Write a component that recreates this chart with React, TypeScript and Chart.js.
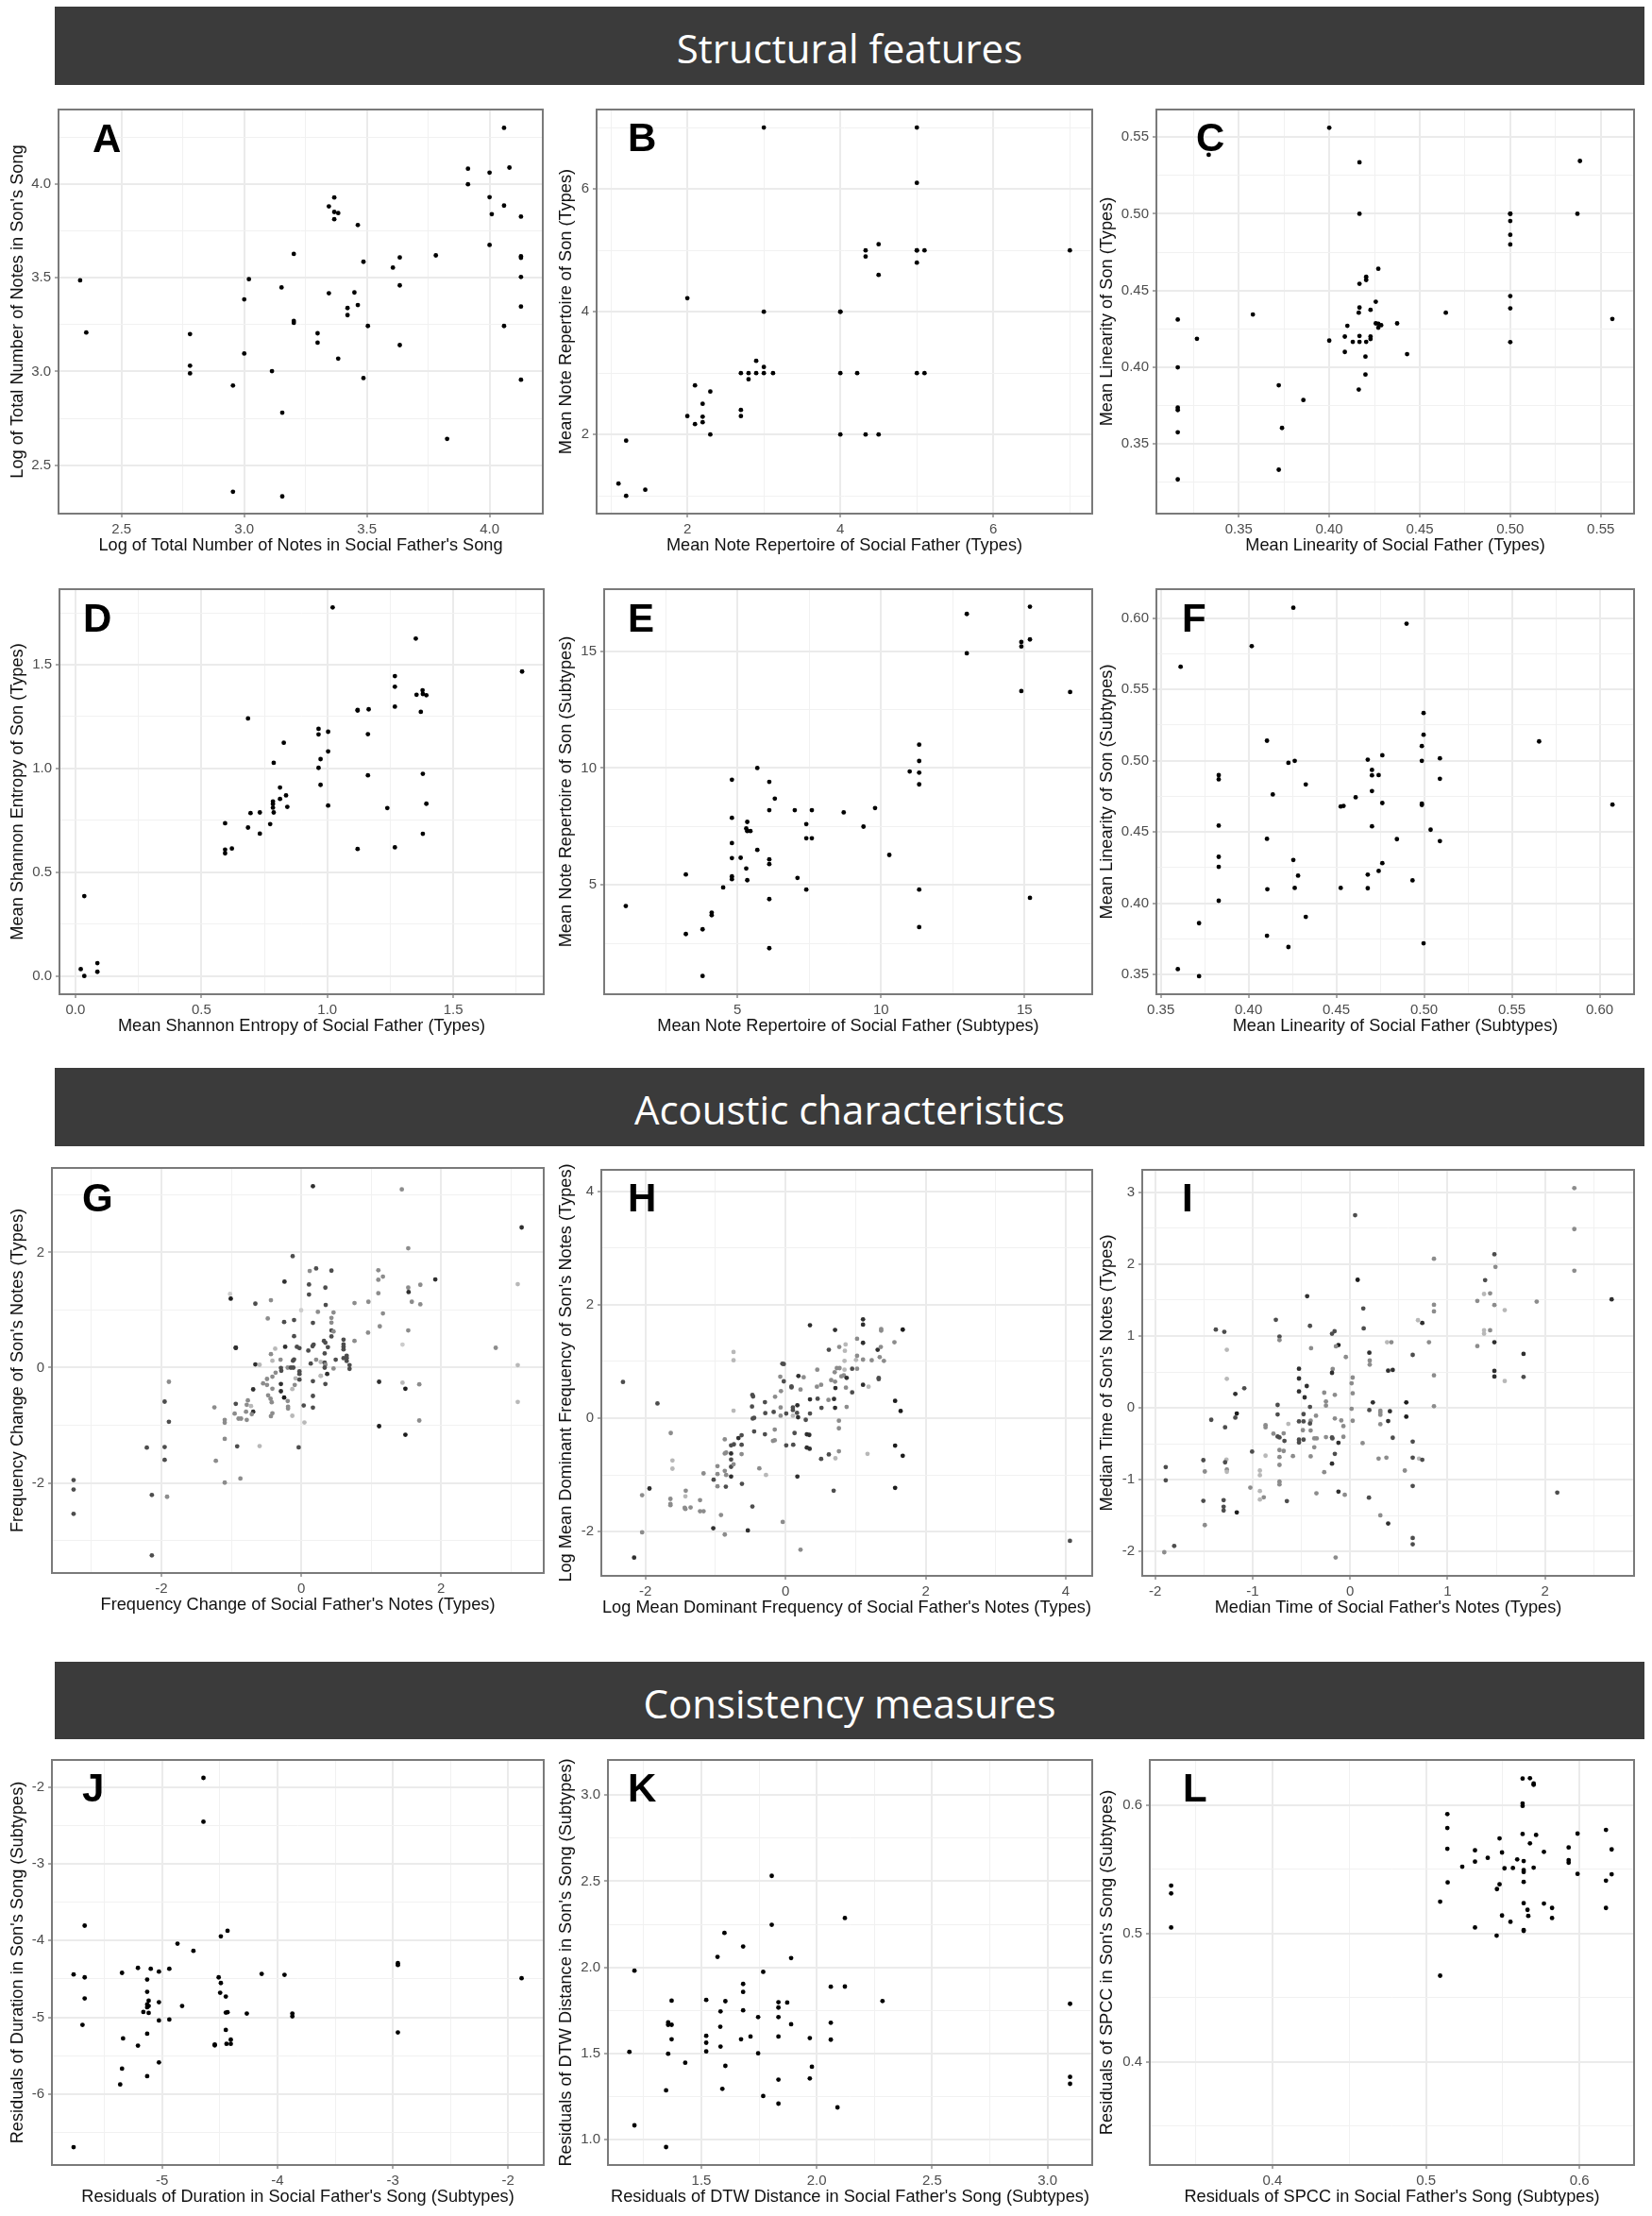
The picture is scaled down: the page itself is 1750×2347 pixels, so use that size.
import { useEffect, useRef } from 'react'
import Chart from 'chart.js/auto'

// father, son
const pointsA = [[2.331,3.487],[2.356,3.208],[2.779,3.2],[2.779,3.031],[2.779,2.99],[2.954,2.925],[2.954,2.358],[3,3.385],[3,3.096],[3.019,3.493],[3.113,3.002],[3.152,3.449],[3.155,2.78],[3.155,2.333],[3.202,3.628],[3.202,3.27],[3.202,3.26],[3.299,3.204],[3.299,3.154],[3.345,3.882],[3.345,3.418],[3.367,3.929],[3.367,3.852],[3.367,3.813],[3.383,3.846],[3.383,3.069],[3.421,3.339],[3.421,3.301],[3.449,3.422],[3.463,3.782],[3.463,3.355],[3.486,3.586],[3.486,2.965],[3.504,3.243],[3.606,3.555],[3.634,3.609],[3.634,3.46],[3.634,3.141],[3.781,3.62],[3.827,2.64],[3.912,4.083],[3.912,4],[4,4.062],[4,3.931],[4,3.676],[4.009,3.84],[4.059,4.301],[4.059,3.886],[4.059,3.243],[4.081,4.089],[4.128,3.827],[4.128,3.615],[4.128,3.607],[4.128,3.505],[4.128,3.347],[4.128,2.956]]
const pointsB = [[1.1,1.2],[1.2,1.9],[1.2,1],[1.45,1.1],[2,4.22],[2,2.3],[2.1,2.8],[2.1,2.17],[2.2,2.5],[2.2,2.29],[2.2,2.2],[2.3,2.7],[2.3,2],[2.7,3],[2.7,2.4],[2.7,2.3],[2.8,3],[2.8,2.9],[2.9,3.2],[2.9,3],[3,7],[3,4],[3,3.1],[3,3],[3.12,3],[4,4],[4,4],[4,3],[4,2],[4.22,3],[4.33,5],[4.33,4.9],[4.33,2],[4.5,5.1],[4.5,4.6],[4.5,2],[5,7],[5,6.1],[5,5],[5,5],[5,4.8],[5,3],[5.1,5],[5.1,3],[7,5]]
const pointsC = [[.3163,.4311],[.3163,.4],[.3163,.3738],[.3163,.3722],[.3163,.3577],[.3163,.327],[.3269,.4186],[.3334,.5384],[.3578,.4344],[.3721,.3883],[.3721,.3333],[.3739,.3605],[.3857,.3787],[.4,.556],[.4,.4174],[.4086,.42],[.4086,.41],[.41,.427],[.413,.4166],[.4163,.4356],[.4163,.3855],[.4167,.5335],[.4167,.5],[.4167,.4544],[.4167,.4389],[.4167,.4204],[.4167,.4166],[.42,.407],[.42,.3953],[.4204,.4589],[.4204,.4569],[.4204,.4166],[.4228,.4374],[.4228,.42],[.4228,.4184],[.4257,.4427],[.4257,.4286],[.4271,.4642],[.4271,.4284],[.4271,.4258],[.4287,.4274],[.4375,.4286],[.443,.4086],[.4644,.4356],[.5,.5],[.5,.5],[.5,.4953],[.5,.4863],[.5,.48],[.5,.4464],[.5,.4384],[.5,.4164],[.5371,.5],[.5385,.5344],[.5564,.4315]]
const pointsD = [[.021,.033],[.035,0],[.035,.385],[.087,.062],[.087,.02],[.594,.736],[.594,.609],[.594,.591],[.621,.614],[.685,1.241],[.685,.715],[.695,.785],[.732,.788],[.732,.686],[.773,.732],[.784,.841],[.784,.829],[.784,.811],[.787,1.027],[.787,.788],[.812,.853],[.812,.908],[.827,1.124],[.836,.87],[.841,.815],[.965,1.191],[.965,1.164],[.965,1.003],[.973,1.045],[.973,.921],[1.003,1.177],[1.003,1.082],[1.003,.821],[1.021,1.776],[1.12,1.282],[1.12,1.279],[1.12,.612],[1.161,1.165],[1.161,.967],[1.164,1.285],[1.238,.809],[1.268,1.445],[1.268,1.394],[1.268,1.298],[1.268,.62],[1.351,1.626],[1.354,1.355],[1.371,1.273],[1.378,1.377],[1.379,1.359],[1.379,.974],[1.379,.685],[1.393,1.353],[1.393,.83],[1.773,1.467]]
const pointsE = [[1.107,4.097],[3.2,5.445],[3.2,2.898],[3.783,3.1],[3.783,1.105],[4.1,3.814],[4.1,3.706],[4.5,4.892],[4.805,9.5],[4.805,7.87],[4.805,6.79],[4.805,6.146],[4.805,5.364],[4.805,5.243],[5.11,6.16],[5.304,5.7],[5.304,7.412],[5.34,7.695],[5.34,7.305],[5.34,5.2],[5.45,7.305],[5.69,10],[5.69,6.496],[6.107,9.407],[6.107,8.194],[6.107,6.09],[6.107,5.89],[6.107,4.393],[6.107,2.291],[6.3,8.69],[6.995,8.194],[7.09,5.296],[7.397,7.6],[7.397,6.995],[7.397,4.798],[7.59,8.194],[7.59,6.995],[8.7,8.1],[9.39,7.493],[9.793,8.288],[10.29,6.28],[11,9.85],[11.33,11],[11.33,10.3],[11.33,9.8],[11.33,9.3],[11.33,4.8],[11.33,3.194],[12.99,16.59],[12.99,14.906],[14.89,15.39],[14.89,15.2],[14.89,13.29],[15.19,16.9],[15.19,15.5],[15.19,4.447],[16.59,13.25]]
const pointsF = [[.3597,.3539],[.3613,.5658],[.3718,.3861],[.3718,.3489],[.383,.4899],[.383,.4869],[.383,.4545],[.383,.4326],[.383,.4256],[.383,.4018],[.4018,.5803],[.4105,.514],[.4105,.4452],[.4107,.4099],[.4105,.3773],[.4138,.4763],[.4227,.4985],[.4227,.3694],[.4255,.6072],[.4255,.4304],[.4263,.4999],[.4263,.4108],[.4282,.4194],[.4326,.4833],[.4326,.3905],[.4525,.4679],[.4525,.4108],[.4541,.4683],[.461,.4743],[.4679,.5007],[.4679,.4201],[.4679,.4106],[.4703,.4935],[.4703,.4897],[.4703,.4787],[.4703,.454],[.4741,.4899],[.4741,.4227],[.4762,.5038],[.4762,.4703],[.4762,.4282],[.4845,.445],[.49,.596],[.4934,.4161],[.4987,.5102],[.4987,.4999],[.4987,.4699],[.4987,.469],[.4997,.5334],[.4997,.5182],[.4997,.372],[.5037,.4516],[.509,.5016],[.509,.4873],[.509,.4436],[.5655,.5135],[.6073,.4692]]

// father, son, tone (0 darkest .. 5 palest)
const pointsG = [[.168,3.148,1],[1.44,3.093,3],[3.155,2.432,1],[1.532,2.071,3],[-.122,1.934,2],[.214,1.721,2],[.122,1.678,3],[.433,1.683,2],[1.104,1.689,3],[1.17,1.579,3],[1.104,1.525,3],[1.919,1.53,1],[-.239,1.492,1],[.112,1.443,2],[3.099,1.448,4],[1.705,1.437,3],[.346,1.388,2],[1.532,1.388,3],[1.537,1.311,1],[1.104,1.29,3],[-1.018,1.279,5],[.112,1.268,2],[-1.008,1.197,0],[-.433,1.169,3],[1.583,1.142,3],[.962,1.142,3],[.763,1.12,3],[-.656,1.109,2],[.351,1.087,2],[1.705,1.098,3],[.239,.967,3],[0,.995,5],[.463,.956,3],[1.17,.94,3],[-.478,.852,3],[.433,.863,3],[-.102,.825,2],[-.244,.792,2],[.168,.776,2],[.433,.781,3],[1.125,.716,3],[.433,.645,2],[.463,.628,3],[1.532,.645,3],[.957,.607,3],[-.102,.546,2],[.433,.541,2],[.606,.486,2],[.763,.464,3],[.326,.464,2],[.346,.432,2],[.178,.399,2],[1.45,.399,5],[.163,.372,2],[-.229,.361,1],[-.061,.361,2],[.382,.355,2],[-.936,.344,1],[-.936,.344,1],[2.784,.344,3],[.606,.404,2],[.606,.361,2],[.606,.317,2],[-.372,.328,4],[-.025,.339,2],[.102,.295,2],[.336,.246,2],[-.433,.235,3],[.651,.208,2],[.606,.164,2],[.651,.169,2],[-.295,.137,3],[.494,.137,2],[-.102,.142,2],[-.117,.12,2],[-.412,.12,4],[.214,.137,3],[.28,.098,4],[.336,.087,2],[.651,.115,2],[.137,.071,2],[-.656,.055,1],[-.595,.049,4],[.692,.044,2],[.346,.049,3],[-.193,0,3],[-.148,0,2],[-.112,0,2],[-.29,-.005,2],[.336,0,2],[.463,-.016,3],[.692,-.022,2],[-.025,-.066,2],[-.025,-.109,2],[-.285,-.055,2],[-.366,-.087,3],[.372,-.109,1],[.28,-.142,4],[.28,-.142,4],[-.412,-.158,3],[-.489,-.197,3],[-.081,-.186,4],[-.025,-.208,2],[.168,-.235,2],[-.545,-.273,3],[-.489,-.301,3],[-.29,-.284,1],[-.092,-.301,3],[.346,-.284,2],[1.115,-.246,1],[1.45,-.262,4],[1.69,-.29,3],[-.687,-.377,1],[-.412,-.366,3],[-.127,-.372,4],[1.491,-.366,0],[-.29,-.41,1],[.168,-.492,2],[-.473,-.481,3],[-.763,-.568,3],[-.438,-.541,3],[-.422,-.601,3],[-.244,-.519,0],[-.193,-.579,3],[-.936,-.628,2],[-.779,-.645,3],[-.718,-.667,4],[-1.242,-.689,3],[-.188,-.678,3],[.036,-.656,2],[.168,-.694,2],[-.188,-.71,3],[-.687,-.765,1],[-.789,-.765,3],[-.412,-.792,3],[-.952,-.798,3],[-.707,-.809,3],[-.433,-.842,3],[-.127,-.836,4],[-.896,-.885,3],[-.86,-.885,3],[-.779,-.907,3],[-1.094,-.907,3],[-1.094,-.956,3],[-1.893,-.94,2],[.046,-.951,4],[1.69,-.918,3],[1.115,-1.016,0],[1.491,-1.164,0],[-1.893,-.246,3],[-1.954,-.59,2],[-1.094,-1.235,3],[-2.209,-1.388,2],[-1.954,-1.377,2],[-.916,-1.366,2],[-.595,-1.361,4],[-.036,-1.383,2],[-1.954,-1.601,2],[-1.221,-1.617,3],[-1.094,-1.995,3],[-.87,-1.923,3],[-3.257,-1.951,2],[-3.257,-2.115,2],[-2.137,-2.208,2],[-1.919,-2.24,3],[-3.257,-2.536,2],[-2.137,-3.257,2],[3.099,.044,4],[3.099,-.596,4]]
const pointsH = [[-2.32,.639,2],[-1.828,.261,2],[-1.638,-.261,3],[-1.614,-.744,4],[-1.614,-.889,4],[-1.942,-1.239,1],[-2.047,-1.356,3],[-2.047,-2.011,3],[-2.161,-2.456,1],[-1.643,-1.422,3],[-1.643,-1.511,3],[-1.643,-1.533,3],[-1.424,-1.278,3],[-1.429,-1.378,4],[-1.439,-1.578,3],[-1.429,-1.6,3],[-1.355,-1.572,3],[-1.22,-1.444,3],[-1.22,-1.639,3],[-1.17,-1.639,3],[-1.17,-.972,3],[-1.026,-1.083,2],[-1.031,-1.939,1],[-.971,-.844,3],[-.971,-.983,3],[-.971,-1.2,3],[-.921,-1.706,3],[-.867,-2.05,3],[-.867,-.928,3],[-.852,-1.206,2],[-.847,-1,3],[-.867,-.372,3],[-.867,-.622,3],[-.847,-.606,3],[-.777,-.478,2],[-.777,-.622,1],[-.777,-.728,2],[-.777,-.856,2],[-.777,-1.028,1],[-.742,-.811,3],[-.737,-.461,2],[-.742,1.022,4],[-.742,1.167,4],[-.742,.133,4],[-.672,-.35,1],[-.627,-.3,2],[-.627,-.467,2],[-.627,-.633,3],[-.622,-1.156,2],[-.538,-1.978,1],[-.473,-1.556,2],[-.468,-.006,2],[-.448,.006,2],[-.448,-.233,2],[-.473,.411,2],[-.463,.383,2],[-.478,.206,2],[-.374,-.883,3],[-.294,.283,2],[-.289,.089,2],[-.294,-.283,2],[-.279,-1,4],[-.179,-.4,3],[-.154,-.389,3],[-.154,-.2,3],[-.169,.111,2],[-.149,.378,3],[-.075,.733,3],[-.07,.189,3],[-.07,.044,3],[-.065,.478,3],[-.045,.961,2],[-.025,.956,2],[-.025,.65,2],[-.04,-1.828,3],[.01,.083,2],[.01,-.478,2],[.085,.561,2],[.085,.544,2],[.105,.189,2],[.105,.144,2],[.105,.044,4],[.11,-.467,2],[.129,-.261,2],[.169,.228,1],[.164,.094,2],[.169,-1.028,1],[.184,.744,1],[.179,.017,1],[.214,.506,3],[.214,-2.317,3],[.259,.722,3],[.289,-.028,2],[.304,-.283,1],[.339,-.294,1],[.304,-.517,1],[.344,-.539,1],[.349,.333,1],[.349,.083,2],[.349,1.639,1],[.453,.856,3],[.448,.556,3],[.458,.344,2],[.508,.589,3],[.513,.183,2],[.508,-.717,2],[.613,.322,3],[.618,1.206,2],[.618,-.639,2],[.652,.672,3],[.692,.339,1],[.687,-1.278,2],[.702,.811,3],[.707,.644,3],[.707,1.556,1],[.707,.183,1],[.712,.533,1],[.712,-.706,4],[.732,.883,3],[.771,.883,3],[.767,1.256,3],[.762,-.044,3],[.762,-.178,3],[.762,-.583,3],[.797,.739,3],[.832,.756,3],[.847,1.189,4],[.842,1.011,4],[.842,.856,4],[.857,1.3,4],[.862,.539,3],[.872,.2,3],[.872,.711,1],[.951,.872,2],[.951,.456,2],[1.006,1.028,4],[1.021,1.4,3],[1.021,1.1,3],[1.021,.872,3],[1.106,1.744,1],[1.106,1.65,1],[1.106,1.328,1],[1.106,1.033,3],[1.106,.589,1],[1.17,-.628,4],[1.185,.556,4],[1.23,1.022,3],[1.315,1.206,1],[1.344,1.078,3],[1.36,1.256,3],[1.33,.711,2],[1.33,.689,2],[1.365,1.572,3],[1.365,1.544,3],[1.404,1.011,3],[1.554,1.339,3],[1.564,.306,0],[1.564,-.483,0],[1.564,-1.228,0],[1.643,.128,0],[1.673,1.561,0],[1.673,-.661,0],[4.059,-2.161,2]]
const pointsI = [[2.3,3.06,3],[.051,2.682,2],[2.3,2.489,3],[1.48,2.138,2],[.86,2.076,3],[1.491,1.962,3],[2.3,1.91,3],[.077,1.782,0],[1.385,1.778,2],[1.374,1.585,4],[1.436,1.594,3],[-.441,1.554,1],[2.683,1.51,1],[1.305,1.488,3],[1.914,1.479,3],[1.48,1.431,3],[.86,1.435,3],[.135,1.383,2],[1.586,1.361,4],[.86,1.343,3],[-.762,1.225,2],[.696,1.22,4],[.74,1.181,1],[-.412,1.141,2],[.139,1.106,2],[-1.378,1.089,2],[-1.291,1.058,2],[-.16,1.067,2],[1.374,1.08,4],[1.374,1.032,4],[1.436,1.08,3],[-.186,1.032,2],[-.725,.992,2],[-.725,.944,3],[.379,.913,4],[.423,.913,3],[.809,.913,3],[1.48,.913,1],[-.12,.874,0],[-.146,.856,3],[-.401,.83,3],[1.305,.86,3],[-1.265,.808,4],[.197,.768,1],[1.779,.751,1],[.642,.737,2],[-.044,.707,3],[.201,.658,3],[.201,.601,3],[-.525,.544,1],[-.179,.54,3],[-.186,.487,1],[.39,.518,1],[.437,.527,1],[1.48,.514,1],[.86,.452,3],[1.48,.435,1],[1.779,.43,2],[-1.265,.404,4],[.026,.421,3],[-.525,.408,1],[1.586,.373,4],[-.445,.303,1],[.015,.342,3],[-1.086,.272,2],[-.525,.228,1],[-.266,.211,3],[.026,.202,3],[-1.178,.193,1],[-.157,.18,3],[-.467,.145,1],[-.248,.088,3],[.233,.075,1],[.576,.075,0],[-.744,.04,2],[-.248,.031,3],[-.412,.013,2],[.86,.022,3],[.015,-.013,3],[.197,-.031,2],[.31,-.04,3],[.408,-.048,1],[.31,-.066,3],[-.478,-.088,2],[-1.163,-.079,0],[-1.178,-.136,2],[.31,-.097,3],[-.744,-.092,2],[-.35,-.11,3],[.576,-.123,0],[-.157,-.149,3],[-1.425,-.167,2],[-.405,-.18,3],[-.525,-.189,2],[-.478,-.189,2],[-.091,-.176,3],[.026,-.18,3],[.39,-.184,1],[-.412,-.219,2],[-.634,-.224,4],[.31,-.228,3],[-.868,-.241,3],[-.868,-.272,3],[-.069,-.255,3],[-1.283,-.272,2],[-.485,-.312,3],[-.405,-.316,3],[-.787,-.36,3],[-.682,-.356,3],[-.744,-.399,2],[-.725,-.413,2],[-.525,-.443,2],[-.478,-.443,2],[-.525,-.483,2],[-.674,-.461,2],[-.368,-.426,3],[-.343,-.426,3],[-.248,-.408,3],[-.186,-.413,2],[-.182,-.426,2],[-.069,-.404,3],[.437,-.417,2],[.642,-.47,2],[-.12,-.487,1],[.128,-.492,3],[-.368,-.549,3],[-1.006,-.61,2],[-.725,-.588,3],[-.682,-.601,3],[-.157,-.641,2],[-.868,-.667,4],[-.587,-.672,3],[-.405,-.676,3],[-.725,-.685,3],[.292,-.707,3],[.372,-.694,3],[.642,-.694,2],[.707,-.707,4],[.74,-.724,2],[-1.506,-.729,2],[-1.269,-.72,4],[-1.283,-.759,2],[-.186,-.777,1],[-.725,-.795,3],[-1.892,-.825,2],[-1.265,-.86,3],[-1.265,-.891,4],[-1.491,-.887,3],[-.926,-.874,4],[-.926,-.939,4],[.561,-.874,3],[-.266,-.896,3],[-1.892,-1.01,2],[-.725,-1.027,3],[-.725,-1.067,3],[.642,-1.089,2],[-1.024,-1.111,3],[-.926,-1.159,4],[-.12,-1.168,1],[2.125,-1.181,2],[-.346,-1.19,3],[-.055,-1.212,3],[-.886,-1.247,3],[-.926,-1.277,4],[.193,-1.251,2],[-1.506,-1.295,2],[-1.298,-1.286,2],[-.649,-1.299,2],[-1.298,-1.378,2],[-1.298,-1.431,2],[-1.163,-1.457,0],[.31,-1.497,3],[-1.491,-1.633,3],[.39,-1.611,1],[.642,-1.813,2],[.642,-1.901,2],[-1.805,-1.923,2],[-1.907,-2.011,3],[-.149,-2.085,3]]

const pointsJ = [[-5.768,-4.442],[-5.768,-6.691],[-5.691,-5.098],[-5.672,-3.806],[-5.672,-4.479],[-5.672,-4.754],[-5.364,-5.874],[-5.348,-4.421],[-5.348,-5.669],[-5.339,-5.275],[-5.21,-4.356],[-5.21,-5.369],[-5.163,-4.93],[-5.13,-4.508],[-5.13,-4.668],[-5.13,-4.832],[-5.13,-4.869],[-5.13,-5.213],[-5.13,-5.767],[-5.117,-4.783],[-5.117,-4.852],[-5.117,-4.943],[-5.099,-4.368],[-5.028,-4.405],[-5.028,-4.803],[-5.028,-5.041],[-5.028,-5.587],[-4.938,-4.368],[-4.938,-5.029],[-4.867,-4.04],[-4.827,-4.852],[-4.729,-4.134],[-4.642,-1.881],[-4.642,-2.452],[-4.544,-5.353],[-4.544,-5.365],[-4.51,-4.479],[-4.497,-4.68],[-4.491,-4.553],[-4.491,-3.945],[-4.448,-4.729],[-4.448,-4.938],[-4.448,-5.164],[-4.442,-5.345],[-4.433,-3.872],[-4.433,-4.934],[-4.405,-5.291],[-4.405,-5.345],[-4.266,-4.951],[-4.137,-4.434],[-3.939,-4.446],[-3.871,-4.951],[-3.871,-4.988],[-2.956,-4.294],[-2.956,-4.319],[-2.956,-5.197],[-1.883,-4.491]]
const pointsK = [[1.188,1.51],[1.21,1.981],[1.21,1.084],[1.347,.958],[1.347,1.287],[1.356,1.681],[1.356,1.667],[1.356,1.499],[1.371,1.667],[1.371,1.807],[1.371,1.583],[1.43,1.447],[1.521,1.811],[1.521,1.603],[1.521,1.563],[1.521,1.513],[1.57,2.061],[1.582,1.656],[1.583,1.745],[1.583,1.541],[1.591,1.296],[1.6,2.2],[1.604,1.804],[1.604,1.429],[1.672,1.583],[1.681,2.121],[1.681,1.904],[1.681,1.858],[1.681,1.751],[1.713,1.599],[1.746,1.712],[1.746,1.502],[1.768,1.974],[1.768,1.254],[1.805,2.531],[1.805,2.247],[1.834,1.798],[1.834,1.767],[1.834,1.712],[1.834,1.599],[1.834,1.349],[1.834,1.21],[1.872,1.796],[1.889,2.054],[1.889,1.67],[1.97,1.59],[1.97,1.356],[1.979,1.424],[2.061,1.888],[2.061,1.679],[2.061,1.581],[2.09,1.188],[2.122,2.286],[2.122,1.889],[2.285,1.805],[3.098,1.789],[3.098,1.365],[3.098,1.325]]
const pointsL = [[.334,.5373],[.334,.5312],[.334,.5047],[.5092,.5248],[.5092,.4671],[.5139,.593],[.5139,.5822],[.5139,.566],[.5141,.5398],[.5236,.552],[.5319,.5648],[.5319,.556],[.5319,.5047],[.5402,.5589],[.546,.4983],[.5462,.5346],[.5479,.5741],[.5479,.5383],[.5495,.5631],[.5495,.514],[.5511,.5508],[.555,.5091],[.5566,.551],[.5594,.5577],[.5629,.6207],[.5629,.6013],[.5629,.5994],[.5629,.5775],[.5636,.5564],[.5636,.5493],[.5636,.5479],[.5636,.5402],[.5636,.5236],[.5636,.5027],[.5636,.502],[.5661,.5184],[.5666,.5137],[.5677,.5702],[.5677,.621],[.5701,.6168],[.5701,.6158],[.5701,.5513],[.5717,.5768],[.5768,.5636],[.5768,.5233],[.5821,.5199],[.5821,.512],[.5929,.567],[.5929,.5572],[.5929,.5552],[.5987,.5778],[.5987,.5464],[.6172,.5807],[.6172,.5412],[.6172,.5199],[.6209,.5655],[.6209,.5461]]

const toneColors = ['#1c1c1c', '#2f2f2f', '#4d4d4d', '#8c8c8c', '#b8b8b8', '#cccccc']

const sections = [
    { label: 'Structural features', top: 7, bottom: 90 },
    { label: 'Acoustic characteristics', top: 1131, bottom: 1214 },
    { label: 'Consistency measures', top: 1760, bottom: 1842 },
]

const panels = [
    { letter: 'A', points: pointsA, box: [62, 116, 575, 544], titleX: 19, letterX: 98, baseline: 161, xTitle: "Log of Total Number of Notes in Social Father's Song", yTitle: "Log of Total Number of Notes in Son's Song", xRange: [2.243, 4.217], yRange: [2.241, 4.399], xStep: 0.5, yStep: 0.5, xDigits: 1, yDigits: 1 },
    { letter: 'B', points: pointsB, box: [632, 116, 1157, 544], titleX: 600, letterX: 665, baseline: 160, xTitle: 'Mean Note Repertoire of Social Father (Types)', yTitle: 'Mean Note Repertoire of Son (Types)', xRange: [0.814, 7.292], yRange: [0.711, 7.294], xStep: 2, yStep: 2, xDigits: 0, yDigits: 0 },
    { letter: 'C', points: pointsC, box: [1225, 116, 1731, 544], titleX: 1173, letterX: 1267, baseline: 160, xTitle: 'Mean Linearity of Social Father (Types)', yTitle: 'Mean Linearity of Son (Types)', xRange: [0.3045, 0.5684], yRange: [0.3047, 0.5679], xStep: 0.05, yStep: 0.05, xDigits: 2, yDigits: 2 },
    { letter: 'D', points: pointsD, box: [63, 624, 576, 1053], titleX: 19, letterX: 88, baseline: 669, xTitle: 'Mean Shannon Entropy of Social Father (Types)', yTitle: 'Mean Shannon Entropy of Son (Types)', xRange: [-0.0635, 1.859], yRange: [-0.088, 1.864], xStep: 0.5, yStep: 0.5, xDigits: 1, yDigits: 1 },
    { letter: 'E', points: pointsE, box: [640, 624, 1157, 1053], titleX: 600, letterX: 665, baseline: 669, xTitle: 'Mean Note Repertoire of Social Father (Subtypes)', yTitle: 'Mean Note Repertoire of Son (Subtypes)', xRange: [0.353, 17.36], yRange: [0.323, 17.65], xStep: 5, yStep: 5, xDigits: 0, yDigits: 0 },
    { letter: 'F', points: pointsF, box: [1225, 624, 1731, 1053], titleX: 1173, letterX: 1252, baseline: 669, xTitle: 'Mean Linearity of Social Father (Subtypes)', yTitle: 'Mean Linearity of Son (Subtypes)', xRange: [0.3475, 0.6196], yRange: [0.3363, 0.6202], xStep: 0.05, yStep: 0.05, xDigits: 2, yDigits: 2 },
    { letter: 'G', points: pointsG, box: [55, 1237, 576, 1666], titleX: 19, letterX: 87, baseline: 1283, xTitle: "Frequency Change of Social Father's Notes (Types)", yTitle: "Frequency Change of Son's Notes (Types)", xRange: [-3.567, 3.471], yRange: [-3.563, 3.464], xStep: 2, yStep: 2, xDigits: 0, yDigits: 0 },
    { letter: 'H', points: pointsH, box: [637, 1239, 1157, 1669], titleX: 600, letterX: 665, baseline: 1283, xTitle: "Log Mean Dominant Frequency of Social Father's Notes (Types)", yTitle: "Log Mean Dominant Frequency of Son's Notes (Types)", xRange: [-2.629, 4.377], yRange: [-2.778, 4.378], xStep: 2, yStep: 2, xDigits: 0, yDigits: 0 },
    { letter: 'I', points: pointsI, box: [1210, 1239, 1731, 1669], titleX: 1173, letterX: 1252, baseline: 1283, xTitle: "Median Time of Social Father's Notes (Types)", yTitle: "Median Time of Son's Notes (Types)", xRange: [-2.133, 2.913], yRange: [-2.34, 3.314], xStep: 1, yStep: 1, xDigits: 0, yDigits: 0 },
    { letter: 'J', points: pointsJ, box: [55, 1864, 576, 2293], titleX: 19, letterX: 87, baseline: 1908, xTitle: "Residuals of Duration in Social Father's Song (Subtypes)", yTitle: "Residuals of Duration in Son's Song (Subtypes)", xRange: [-5.956, -1.691], yRange: [-6.924, -1.647], xStep: 1, yStep: 1, xDigits: 0, yDigits: 0 },
    { letter: 'K', points: pointsK, box: [644, 1864, 1157, 2293], titleX: 600, letterX: 665, baseline: 1908, xTitle: "Residuals of DTW Distance in Social Father's Song (Subtypes)", yTitle: "Residuals of DTW Distance in Son's Song (Subtypes)", xRange: [1.095, 3.194], yRange: [0.854, 3.203], xStep: 0.5, yStep: 0.5, xDigits: 1, yDigits: 1 },
    { letter: 'L', points: pointsL, box: [1218, 1864, 1731, 2293], titleX: 1173, letterX: 1253, baseline: 1908, xTitle: "Residuals of SPCC in Social Father's Song (Subtypes)", yTitle: "Residuals of SPCC in Son's Song (Subtypes)", xRange: [0.3201, 0.6355], yRange: [0.3196, 0.6352], xStep: 0.1, yStep: 0.1, xDigits: 1, yDigits: 1 },
]

const FONT = '"Liberation Sans", Arial, sans-serif'
const TITLE_SIZE = 18.2
const BELOW_BOX = 47

const isMajor = (v: number, step: number) => Math.abs(v / step - Math.round(v / step)) < 1e-6

// ggplot style breaks: majors on the step, one minor between each
const gridValues = (min: number, max: number, step: number) => {
    const half = step / 2
    const edge = (max - min) * 0.01
    const out: { value: number }[] = []
    for (let i = Math.ceil(min / half); i * half <= max; i++) {
        const v = i * half
        if (!isMajor(v, step) && (v - min < edge || max - v < edge)) continue
        out.push({ value: v })
    }
    return out
}

// tick labels must not push the plot area in from the edges
const noOverflow = (s: any) => {
    s.paddingTop = 0
    s.paddingBottom = 0
    s.paddingLeft = 0
    s.paddingRight = 0
}

const makeAxis = (range: number[], step: number, digits: number, title: string, fit: (s: any) => void) => ({
    type: 'linear',
    min: range[0],
    max: range[1],
    afterBuildTicks: (s: any) => { s.ticks = gridValues(range[0], range[1], step) },
    afterFit: (s: any) => { fit(s); noOverflow(s) },
    border: { display: false },
    grid: {
        color: (c: any) => (isMajor(c.tick.value, step) ? '#ebebeb' : '#f1f1f1'),
        lineWidth: (c: any) => (isMajor(c.tick.value, step) ? 2 : 1),
        tickColor: '#555555',
        tickWidth: (c: any) => (isMajor(c.tick.value, step) ? 1 : 0),
        tickLength: 4,
    },
    ticks: {
        autoSkip: false,
        maxRotation: 0,
        padding: 4,
        color: '#4d4d4d',
        font: { family: FONT, size: 15 },
        callback: (v: any) => (isMajor(Number(v), step) ? Number(v).toFixed(digits) : ''),
    },
    title: {
        display: true,
        text: title,
        color: '#111111',
        padding: { top: 2, bottom: 2 },
        font: { family: FONT, size: TITLE_SIZE },
    },
})

const ScatterPanel = ({ panel }: { panel: any }) => {
    const chartRef = useRef<HTMLCanvasElement>(null)
    const [left, top, right, bottom] = panel.box
    const canvasLeft = panel.titleX - 13
    const canvasTop = top - 6
    const width = right + 6 - canvasLeft
    const height = bottom + BELOW_BOX - canvasTop

    useEffect(() => {
        if (!chartRef.current) return
        const chart = new Chart(chartRef.current, {
            type: 'scatter',
            data: {
                datasets: [{
                    data: panel.points.map((p: number[]) => ({ x: p[0], y: p[1] })),
                    backgroundColor: panel.points.map((p: number[]) => (p.length > 2 ? toneColors[p[2]] : '#000000')),
                    pointRadius: 2.4,
                    pointBorderWidth: 0,
                }],
            },
            options: {
                animation: false,
                responsive: false,
                devicePixelRatio: 1,
                events: [],
                layout: { autoPadding: false, padding: { top: 6, right: 6, left: 0, bottom: 0 } },
                plugins: { legend: { display: false }, tooltip: { enabled: false } },
                scales: {
                    x: makeAxis(panel.xRange, panel.xStep, panel.xDigits, panel.xTitle, (s: any) => { s.height = BELOW_BOX }),
                    y: makeAxis(panel.yRange, panel.yStep, panel.yDigits, panel.yTitle, (s: any) => { s.width = left - canvasLeft }),
                },
            } as any,
            plugins: [{
                id: 'panelFrame',
                afterDatasetsDraw: (c: any) => {
                    const { ctx, chartArea: a } = c
                    ctx.save()
                    ctx.strokeStyle = '#7a7a7a'
                    ctx.lineWidth = 2
                    ctx.strokeRect(a.left, a.top, a.right - a.left, a.bottom - a.top)
                    ctx.fillStyle = '#000000'
                    ctx.font = `bold 42px ${FONT}`
                    ctx.textBaseline = 'alphabetic'
                    ctx.fillText(panel.letter, panel.letterX - canvasLeft, panel.baseline - canvasTop)
                    ctx.restore()
                },
            }],
        })

        return () => {
            chart.destroy()
        }
    }, [])

    return (
        <canvas
            ref={chartRef}
            width={width}
            height={height}
            style={{ position: 'absolute', left: canvasLeft, top: canvasTop, width, height }}
        />
    )
}

const App = () => {
    return (
        <div style={{ position: 'absolute', left: 0, top: 0, width: 1750, height: 2347, background: '#ffffff' }}>
            {sections.map((s) => (
                <div
                    key={s.label}
                    style={{
                        position: 'absolute',
                        left: 58,
                        width: 1684,
                        top: s.top,
                        height: s.bottom - s.top,
                        lineHeight: `${s.bottom - s.top + 5}px`,
                        background: '#3b3b3b',
                        color: '#ffffff',
                        textAlign: 'center',
                        fontFamily: '"Open Sans", sans-serif',
                        fontSize: 42,
                    }}
                >
                    {s.label}
                </div>
            ))}
            {panels.map((p) => (
                <ScatterPanel key={p.letter} panel={p} />
            ))}
        </div>
    )
}

export default App
